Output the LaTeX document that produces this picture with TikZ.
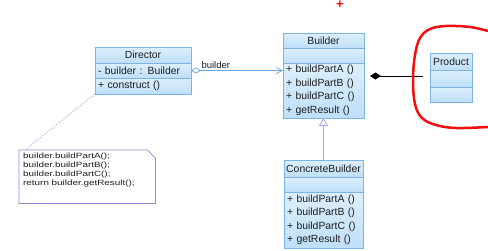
\documentclass[tikz,border=0pt]{standalone}
\usepackage{fontspec}
\setmainfont{Liberation Sans}
\newfontfamily\notefont{Liberation Sans}[FakeStretch=1.3]
\usetikzlibrary{arrows.meta}
\definecolor{umlborder}{HTML}{7DB4E6}
\definecolor{umltop}{HTML}{DDEFFC}
\definecolor{umlbot}{HTML}{BFDFF8}
\definecolor{umltext}{HTML}{1E1E1E}
\definecolor{assoccol}{HTML}{6AA6E0}
\definecolor{inhcol}{HTML}{A8A8EC}
\definecolor{notecol}{HTML}{8C8CDA}
\definecolor{markred}{HTML}{F01010}
\begin{document}
\begin{tikzpicture}[x=1pt,y=-1pt,
  comp/.style={draw=umlborder, top color=umltop, bottom color=umlbot, line width=0.7pt,
    inner sep=0pt, outer sep=0pt, anchor=north west, text=umltext,
    font=\fontsize{10.4}{13.5}\selectfont},
  opsbox/.style={comp, align=left, inner xsep=3pt},
  assoc/.style={draw=assoccol, line width=0.7pt},
  inh/.style={draw=inhcol, line width=0.8pt},
  noteline/.style={draw=notecol, line width=0.7pt},
  noteconn/.style={draw=inhcol, line width=0.7pt, dash pattern=on 1.5pt off 1.5pt},
]
\useasboundingbox[fill=white] (0,0) rectangle (488,250);

% Director
\node[comp, minimum width=96, minimum height=16] (dirT) at (95,47) {Director};
\node[opsbox, minimum width=96, minimum height=15, text width=90] (dirA) at (95,63) {- builder : Builder};
\node[opsbox, minimum width=96, minimum height=16, text width=90] (dirO) at (95,78) {+ construct ()};

% Builder
\node[comp, minimum width=81, minimum height=15] (bldT) at (283,33) {Builder};
\node[comp, minimum width=81, minimum height=15] (bldE) at (283,48) {};
\node[opsbox, minimum width=81, minimum height=55, text width=75] (bldO) at (283,63)
  {+ buildPartA ()\\+ buildPartB ()\\+ buildPartC ()\\+ getResult ()};

% ConcreteBuilder
\node[comp, minimum width=79, minimum height=17] (cbT) at (284,160) {ConcreteBuilder};
\node[comp, minimum width=79, minimum height=15] (cbE) at (284,177) {};
\node[opsbox, minimum width=79, minimum height=56, text width=73] (cbO) at (284,192)
  {+ buildPartA ()\\+ buildPartB ()\\+ buildPartC ()\\+ getResult ()};

% Product
\node[comp, minimum width=42, minimum height=17] (prT) at (430,53) {Product};
\node[comp, minimum width=42, minimum height=17] (prM) at (430,70) {};
\node[comp, minimum width=42, minimum height=15] (prB) at (430,87) {};

% Note
\node[anchor=north west, minimum width=136, minimum height=53, inner sep=0pt] (note) at (19,150) {};
\node[anchor=north west, inner sep=0pt, align=left, text=umltext,
  font=\notefont\fontsize{7.6}{8.9}\selectfont] (noteT) at (23,153)
  {builder.buildPartA();\\builder.buildPartB();\\builder.buildPartC();\\return builder.getResult();};
\draw[noteline] (note.north west) -- ([xshift=-8pt]note.north east)
  -- ([yshift=-8pt]note.north east) -- (note.south east) -- (note.south west) -- cycle;
\draw[noteconn] (dirO.south west) -- ([xshift=6pt]note.north west);

% aggregation
\draw[assoc, {Diamond[open,length=10pt,width=6pt]}-{Straight Barb[length=6pt,width=6pt]}]
  (dirA.east) -- (dirA.east -| bldO.west)
  node[pos=0.1, anchor=south west, inner sep=1pt, yshift=1pt, text=umltext,
       font=\fontsize{9.5}{11}\selectfont] (lbl) {builder};

% inheritance
\draw[inh, -{Triangle[open,length=8pt,width=9pt]}] (cbT.north) -- (bldO.south);

% composition
\draw[draw=black, line width=0.8pt, {Diamond[length=11pt,width=7pt]}-, shorten <=6pt, shorten >=7pt]
  (bldO.east |- 0,76) -- (prM.west |- 0,76);

% red marks
\node[text=markred, font=\bfseries\fontsize{13}{13}\selectfont, inner sep=0pt] (plus) at (340,5) {+};
\draw[markred, line width=2.5pt, line cap=round, line join=round] plot[smooth, tension=0.6] coordinates
  {(488,31) (470,27) (446,26) (430,29) (420,38) (415,55) (413,80) (415,104) (422,118) (436,125) (456,128) (488,127)};
\end{tikzpicture}
\end{document}
